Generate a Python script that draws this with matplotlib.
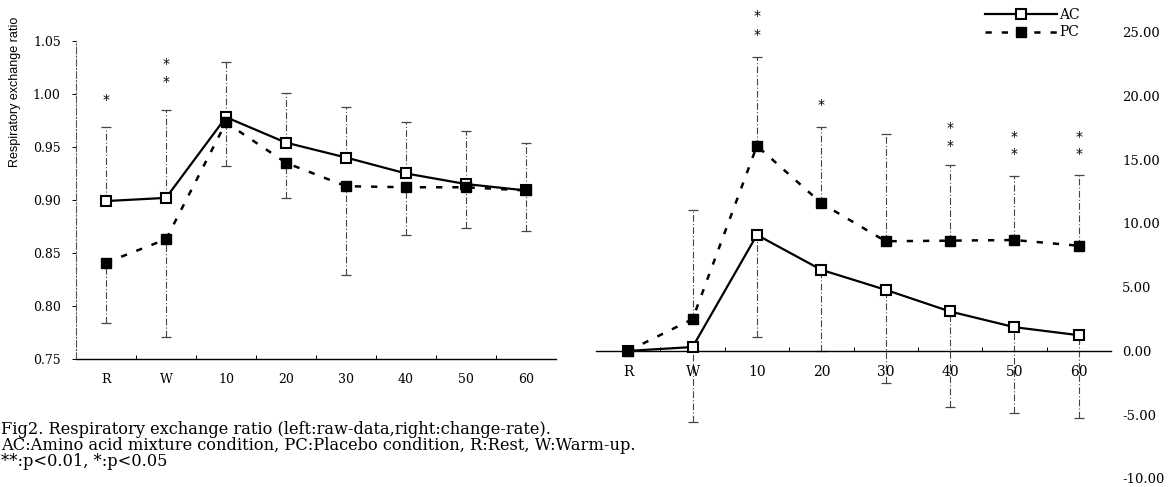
import numpy as np
import matplotlib
matplotlib.use('Agg')
import matplotlib.pyplot as plt

plt.rcParams['axes.unicode_minus'] = False
plt.rcParams['font.family'] = ['DejaVu Serif']

categories = ['R', 'W', '10', '20', '30', '40', '50', '60']

# left: raw data
ac_raw = [0.899, 0.902, 0.978, 0.954, 0.940, 0.925, 0.915, 0.909]
ac_raw_sd = [0.070, 0.083, 0.052, 0.047, 0.048, 0.048, 0.050, 0.045]
pc_raw = [0.841, 0.863, 0.973, 0.935, 0.913, 0.912, 0.912, 0.909]
pc_raw_sd = [0.057, 0.092, 0.041, 0.033, 0.084, 0.045, 0.038, 0.038]

# right: change rate
ac_rate = [0.0, 0.3, 9.1, 6.36, 4.79, 3.09, 1.86, 1.23]
ac_rate_sd = [0.0, 5.85, 7.98, 6.4, 7.28, 7.51, 6.70, 6.51]
pc_rate = [0.0, 2.49, 16.09, 11.59, 8.6, 8.65, 8.7, 8.25]
pc_rate_sd = [0.0, 8.58, 7.0, 6.0, 8.4, 5.9, 5.04, 5.55]

# significance marks
left_star_idx = [0, 1, 1]
left_star_y = [0.994, 1.011, 1.028]
right_star_idx = [2, 2, 3, 5, 5, 6, 6, 7, 7]
right_star_y = [24.8, 26.24, 19.3, 16.04, 17.5, 15.46, 16.82, 15.46, 16.82]

W, H = 1173, 487
fig = plt.figure(figsize=(W / 100, H / 100), dpi=100)

def box(l, r, t, b):
    return [l / W, 1 - b / H, (r - l) / W, (b - t) / H]

ax1 = fig.add_axes(box(76, 556, 40.7, 359.3))
ax2 = fig.add_axes(box(596, 1111, 32.3, 478.3))

x = np.arange(len(categories))
zeros = np.zeros(len(categories))

def draw(ax, ac, ac_err, pc, pc_err):
    # ac_err / pc_err are [lower, upper]
    for y, err in ((ac, ac_err), (pc, pc_err)):
        eb = ax.errorbar(x, y, yerr=err, fmt='none', ecolor='#444444',
                         elinewidth=0.8, capsize=3.5, capthick=0.9, zorder=1)
        eb[2][0].set_linestyle((0, (6, 2, 1, 2)))
    l1, = ax.plot(x, ac, color='black', lw=1.6, marker='s', ms=7, mfc='white',
                  mec='black', mew=1.5, zorder=3, label='AC')
    l2, = ax.plot(x, pc, color='black', lw=1.8, ls=(0, (2.5, 4)), marker='s', ms=6.5,
                  mfc='black', mec='black', zorder=4, label='PC')
    ax.set_xlim(-0.5, len(categories) - 0.5)
    ax.set_xticks(x)
    ax.set_xticklabels(categories, fontsize=9)
    ax.set_xticks(np.arange(0.5, len(categories) - 1, 1), minor=True)
    ax.tick_params(axis='x', which='major', length=0, pad=10)
    ax.tick_params(axis='x', which='minor', direction='in', length=3, width=0.7)
    ax.spines['top'].set_visible(False)
    ax.spines['right'].set_visible(False)
    ax.spines['bottom'].set_linewidth(1.0)
    return l1, l2

draw(ax1, ac_raw, [zeros, ac_raw_sd], pc_raw, [pc_raw_sd, zeros])
ax1.set_ylim(0.75, 1.05)
ax1.set_yticks(np.arange(0.75, 1.0501, 0.05))
ax1.set_yticklabels(['%.2f' % v for v in np.arange(0.75, 1.0501, 0.05)], fontsize=9)
ax1.tick_params(axis='y', length=3, width=0.7, pad=8)
ax1.spines['left'].set_linestyle((0, (6, 2, 1, 2)))
ax1.spines['left'].set_color('#555555')
ax1.spines['left'].set_linewidth(0.8)
for i, yv in zip(left_star_idx, left_star_y):
    ax1.text(i, yv, '*', ha='center', va='center', fontsize=10,
             family='DejaVu Sans', clip_on=False)

l1, l2 = draw(ax2, ac_rate, [ac_rate_sd, zeros], pc_rate, [zeros, pc_rate_sd])
ax2.set_ylim(-10, 25)
ax2.set_yticks(np.arange(-10, 25.1, 5))
ax2.set_yticklabels(['%.2f' % v for v in np.arange(-10, 25.1, 5)], fontsize=9.5)
ax2.yaxis.tick_right()
ax2.tick_params(axis='y', length=0, pad=8)
ax2.spines['left'].set_visible(False)
ax2.spines['bottom'].set_position(('data', 0))
ax2.tick_params(axis='x', which='major', pad=10)
for i, yv in zip(right_star_idx, right_star_y):
    ax2.text(i, yv, '*', ha='center', va='center', fontsize=10,
             family='DejaVu Sans', clip_on=False)

fig.legend([l1, l2], ['AC', 'PC'], loc='upper left',
           bbox_to_anchor=(985 / W, 1 - 8 / H), frameon=False, fontsize=10,
           handlelength=5.2, handletextpad=0.15, labelspacing=0.25, borderpad=0,
           borderaxespad=0)

fig.text(15.5 / W, 1 - 92 / H, 'Respiratory exchange ratio', rotation=90,
         ha='center', va='center', fontsize=9, family='Liberation Sans')

caption = ['Fig2. Respiratory exchange ratio (left:raw-data,right:change-rate).',
           'AC:Amino acid mixture condition, PC:Placebo condition, R:Rest, W:Warm-up.',
           '**:p<0.01, *:p<0.05']
for k, line in enumerate(caption):
    fig.text(1 / W, 1 - (430 + 16 * k) / H, line, ha='left', va='center', fontsize=11.7)

fig.savefig('out.png', dpi=100)
